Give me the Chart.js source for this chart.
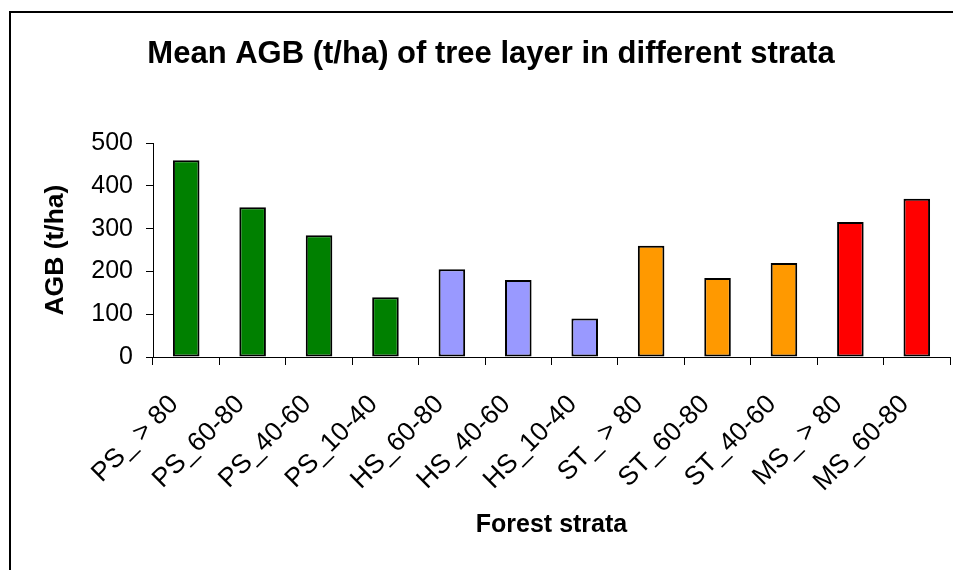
<!DOCTYPE html>
<html>
<head>
<meta charset="utf-8">
<script src="https://cdn.jsdelivr.net/npm/chart.js@4"></script>
<style>
	html, body { margin: 0; padding: 0; background: #fff; overflow: hidden; }
	#wrap { position: relative; width: 953px; height: 570px; }
</style>
</head>
<body>
<div id="wrap"><canvas id="chart"></canvas></div>
<script>
const categories = ['PS_ > 80', 'PS_60-80', 'PS_40-60', 'PS_10-40', 'HS_60-80', 'HS_40-60', 'HS_10-40', 'ST_ > 80', 'ST_60-80', 'ST_40-60', 'MS_ > 80', 'MS_60-80'];
const agbValues = [460, 350, 285, 140, 205, 180, 90, 260, 185, 220, 316, 370];
const yTicks = [0, 100, 200, 300, 400, 500];

const barColors = ['#008000', '#008000', '#008000', '#008000', '#9999ff', '#9999ff', '#9999ff', '#ff9900', '#ff9900', '#ff9900', '#ff0000', '#ff0000'];
const FONT = 'Arial, "Liberation Sans", sans-serif';

// chart-area frame: only the left and top edges are inside the window
const framePlugin = {
	id: 'frame',
	beforeDraw(chart) {
		const { ctx } = chart;
		ctx.save();
		ctx.strokeStyle = '#000';
		ctx.lineWidth = 2;
		ctx.beginPath();
		ctx.moveTo(10, chart.height + 5);
		ctx.lineTo(10, 12);
		ctx.lineTo(chart.width + 5, 12);
		ctx.stroke();
		ctx.restore();
	},
};

document.addEventListener('DOMContentLoaded', () => {
	const el = document.getElementById('chart');
	// eslint-disable-next-line no-new
	new Chart(el, {
		type: 'bar',
		data: {
			labels: categories,
			datasets: [{
				label: 'AGB',
				data: agbValues,
				backgroundColor: barColors,
				borderColor: '#000',
				borderWidth: 2,
				borderSkipped: false,
				categoryPercentage: 1,
				barPercentage: 0.4,
			}],
		},
		plugins: [framePlugin],
		options: {
			responsive: true,
			maintainAspectRatio: false,
			animation: false,
			layout: { padding: { left: 32, right: 3, top: 0, bottom: 0 } },
			plugins: {
				legend: { display: false },
				tooltip: { enabled: false },
				title: {
					display: true,
					text: 'Mean AGB (t/ha) of tree layer in different strata',
					color: '#000',
					font: { family: FONT, size: 31, weight: 'bold' },
					padding: { top: 36, bottom: 70 },
				},
			},
			scales: {
				x: {
					grid: { display: true, drawOnChartArea: false, offset: true, color: '#000', tickLength: 8, tickColor: '#000' },
					border: { display: true, color: '#000', width: 1 },
					ticks: {
						color: '#000',
						font: { family: FONT, size: 26.5 },
						minRotation: 45,
						maxRotation: 45,
						autoSkip: false,
						padding: 24,
						labelOffset: -12,
					},
					title: {
						display: true,
						text: 'Forest strata',
						color: '#000',
						font: { family: FONT, size: 25, weight: 'bold' },
						padding: { top: 0, bottom: 30 },
					},
					afterFit: (scale) => {
						scale.height = 213;
						scale.paddingLeft = 0;
						scale.paddingRight = 0;
					},
				},
				y: {
					min: 0,
					max: 500,
					afterBuildTicks: (scale) => { scale.ticks = yTicks.map((v) => ({ value: v })); },
					grid: { display: true, drawOnChartArea: false, color: '#000', tickLength: 7, tickColor: '#000' },
					border: { display: true, color: '#000', width: 1 },
					ticks: {
						color: '#000',
						font: { family: FONT, size: 25 },
						padding: 13,
					},
					title: {
						display: true,
						text: 'AGB (t/ha)',
						color: '#000',
						font: { family: FONT, size: 26.5, weight: 'bold' },
						padding: { top: 8, bottom: 0 },
					},
					afterFit: (scale) => { scale.width = 121; },
				},
			},
		},
	});
});
</script>
</body>
</html>
